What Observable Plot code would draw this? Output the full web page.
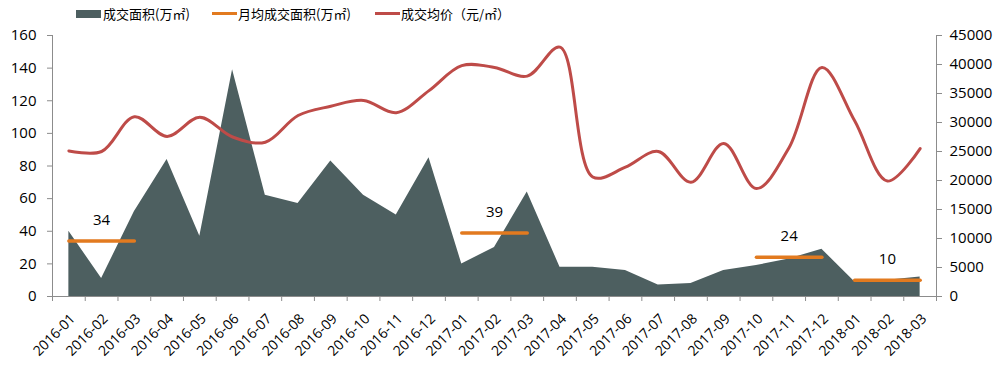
<!DOCTYPE html>
<html>
<head>
<meta charset="utf-8">
<script src="https://cdn.jsdelivr.net/npm/d3@7"></script>
<script src="https://cdn.jsdelivr.net/npm/@observablehq/plot@0.6"></script>
<style>
  body { margin: 0; background: #fff; font-family: "Open Sans", "Noto Sans CJK SC", sans-serif; }
  #wrap { position: relative; width: 1002px; height: 370px; }
  #legend { position: relative; height: 20px; width: 1002px; font-family: "Noto Sans CJK SC", sans-serif; font-size: 13px; color: #000; }
  .sw { position: absolute; }
  .lt { position: absolute; top: 4px; line-height: 20px; white-space: nowrap; }
</style>
</head>
<body>
<div id="wrap">
  <div id="legend"></div>
  <div id="chart"></div>
</div>
<script>
const months = ["2016-01","2016-02","2016-03","2016-04","2016-05","2016-06","2016-07","2016-08","2016-09","2016-10","2016-11","2016-12",
  "2017-01","2017-02","2017-03","2017-04","2017-05","2017-06","2017-07","2017-08","2017-09","2017-10","2017-11","2017-12",
  "2018-01","2018-02","2018-03"];
const area = [40, 11, 52, 84, 37, 139, 62, 57, 83, 62, 50, 85,
  20, 30, 64, 18, 18, 16, 7, 8, 16, 19, 23, 29,
  9, 10, 12];
const price = [25100, 25000, 31000, 27600, 30900, 27500, 26600, 31200, 32800, 33800, 31700, 35500,
  39800, 39500, 38000, 43000, 20600, 22300, 25000, 19700, 26400, 18600, 25700, 39500,
  30300, 19900, 25500];
const avgStart = ["2016-01", "2017-01", "2017-10", "2018-01"];
const avgEnd = ["2016-03", "2017-03", "2017-12", "2018-03"];
const avgValue = [34, 39, 24, 10];
const leftTicks = [0, 20, 40, 60, 80, 100, 120, 140, 160];
const rightTicks = [0, 5000, 10000, 15000, 20000, 25000, 30000, 35000, 40000, 45000];
const seriesNames = ["成交面积(万㎡)", "月均成交面积(万㎡)", "成交均价（元/㎡）"];

const C_AREA = "#4D5F60", C_AVG = "#E27A1F", C_PRICE = "#BE4B48", C_AXIS = "#8C8C8C";
const LMAX = 160, RMAX = 45000;
const toL = p => p / RMAX * LMAX;

// legend
const legend = document.getElementById("legend");
const legendItems = [
  {name: seriesNames[0], kind: "rect", color: C_AREA, x: 76, tx: 103},
  {name: seriesNames[1], kind: "line", color: C_AVG, x: 212, tx: 238},
  {name: seriesNames[2], kind: "line", color: C_PRICE, x: 375, tx: 401}
];
for (const it of legendItems) {
  const sw = document.createElement("div");
  sw.className = "sw";
  sw.style.left = it.x + "px";
  sw.style.width = "25px";
  sw.style.background = it.color;
  if (it.kind === "rect") { sw.style.top = "10px"; sw.style.height = "8px"; }
  else { sw.style.top = "12px"; sw.style.height = "3px"; }
  legend.appendChild(sw);
  const t = document.createElement("div");
  t.className = "lt";
  t.style.left = it.tx + "px";
  t.textContent = it.name;
  legend.appendChild(t);
}

const rows = months.map((m, i) => ({i, m, area: area[i], price: price[i]}));
const avgRows = [];
avgValue.forEach((v, k) => {
  avgRows.push({k, i: months.indexOf(avgStart[k]), v});
  avgRows.push({k, i: months.indexOf(avgEnd[k]), v});
});
const avgLabels = avgValue.map((v, k) => ({v, i: (months.indexOf(avgStart[k]) + months.indexOf(avgEnd[k])) / 2}));

const idx = months.map((_, i) => i);
const bounds = months.map((_, i) => i - 0.5).concat([months.length - 0.5]);

const chart = Plot.plot({
  width: 1002,
  height: 350,
  marginLeft: 52,
  marginRight: 66,
  marginTop: 15,
  marginBottom: 74,
  style: {fontFamily: "'Open Sans', sans-serif", fontSize: "15px", color: "#000", background: "#fff", overflow: "visible"},
  x: {domain: [-0.5, months.length - 0.5]},
  y: {domain: [0, LMAX]},
  marks: [
    Plot.areaY(rows, {x: "i", y: "area", fill: C_AREA}),
    Plot.line(rows, {x: "i", y: d => toL(d.price), stroke: C_PRICE, strokeWidth: 3, curve: "catmull-rom"}),
    Plot.line(avgRows, {x: "i", y: "v", z: "k", stroke: C_AVG, strokeWidth: 3.5}),
    Plot.text(avgLabels, {x: "i", y: "v", text: d => String(d.v), dy: -21, fill: "#000", fontSize: 15}),
    Plot.ruleY([0], {stroke: C_AXIS, strokeWidth: 1}),
    Plot.ruleX([-0.5], {stroke: C_AXIS, strokeWidth: 1}),
    Plot.ruleX([months.length - 0.5], {stroke: C_AXIS, strokeWidth: 1}),
    Plot.axisY({ticks: leftTicks, anchor: "left", tickSize: 5, tickPadding: 11, stroke: C_AXIS, label: null, fill: "#000", fontSize: 15}),
    Plot.axisY({ticks: rightTicks.map(toL), anchor: "right", tickSize: 5, tickPadding: 8, stroke: C_AXIS, label: null, fill: "#000", fontSize: 15,
      tickFormat: (d, j) => String(rightTicks[j])}),
    Plot.axisX({ticks: bounds, tickSize: 5, tickFormat: () => "", stroke: C_AXIS, label: null}),
    Plot.axisX({ticks: idx, tickSize: 0, tickPadding: 8, tickRotate: -45, tickFormat: i => months[i], label: null, fill: "#000", fontSize: 14, dx: 4, dy: 12})
  ]
});
document.getElementById("chart").appendChild(chart);
</script>
</body>
</html>
